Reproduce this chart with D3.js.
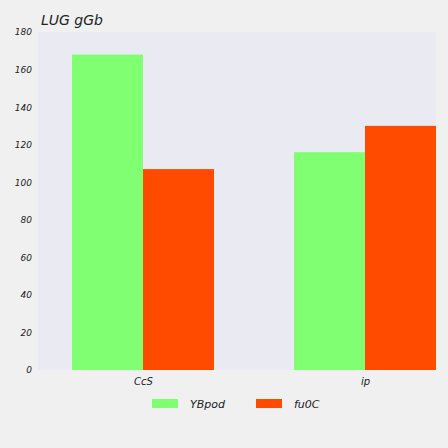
<!DOCTYPE html><html><head><script src="https://cdn.jsdelivr.net/npm/d3@7"></script>
<style>body{margin:0;background:#f0f0f0}text{font-family:"DejaVu Sans",sans-serif}</style></head><body>
<svg id="c" width="448" height="448"></svg>
<script>
const categories=["CcS","ip"];
const seriesNames=["YBpod","fu0C"];
const seriesA=[168,116];
const seriesB=[107,130];
const yTicks=[0,20,40,60,80,100,120,140,160,180];
const colors=["#80ff72","#ff4b00"];
const svg=d3.select("#c");
const L=38,R=436,T=32,B=370;
svg.append("rect").attr("x",L).attr("y",T).attr("width",R-L).attr("height",B-T).attr("fill","#eaeaf2");
const y=d3.scaleLinear().domain([0,180]).range([B,T]);
const x=d3.scalePoint().domain(categories).range([143,365]);
const bw=71;
const g=svg.append("g").attr("clip-path","url(#cl)");
svg.append("clipPath").attr("id","cl").append("rect").attr("x",L).attr("y",T).attr("width",R-L).attr("height",B-T);
[seriesA,seriesB].forEach((s,si)=>{
 g.selectAll(null).data(s).enter().append("rect")
  .attr("x",(d,i)=>x(categories[i])+(si-1)*bw).attr("width",bw)
  .attr("y",d=>y(d)).attr("height",d=>B-y(d)).attr("fill",colors[si]);
});
const ya=svg.append("g").attr("transform",`translate(${L},0)`).call(d3.axisLeft(y).tickValues(yTicks).tickSize(0).tickPadding(6));
ya.select(".domain").remove();
ya.selectAll("text").attr("font-size",9).attr("font-style","italic").attr("fill","#222");
const xa=svg.append("g").attr("transform",`translate(0,${B})`).call(d3.axisBottom(x).tickSize(0).tickPadding(8));
xa.select(".domain").remove();
xa.selectAll("text").attr("font-size",10).attr("font-style","italic").attr("fill","#222");
svg.append("text").attr("x",41).attr("y",25).attr("font-size",14).attr("font-style","italic").attr("fill","#222").text("LUG  gGb");
const lx=[152,256];
seriesNames.forEach((n,i)=>{
 svg.append("rect").attr("x",lx[i]).attr("y",399).attr("width",26).attr("height",9).attr("fill",colors[i]);
 svg.append("text").attr("x",lx[i]+38).attr("y",408).attr("font-size",11).attr("font-style","italic").attr("fill","#222").text(n);
});
</script></body></html>
